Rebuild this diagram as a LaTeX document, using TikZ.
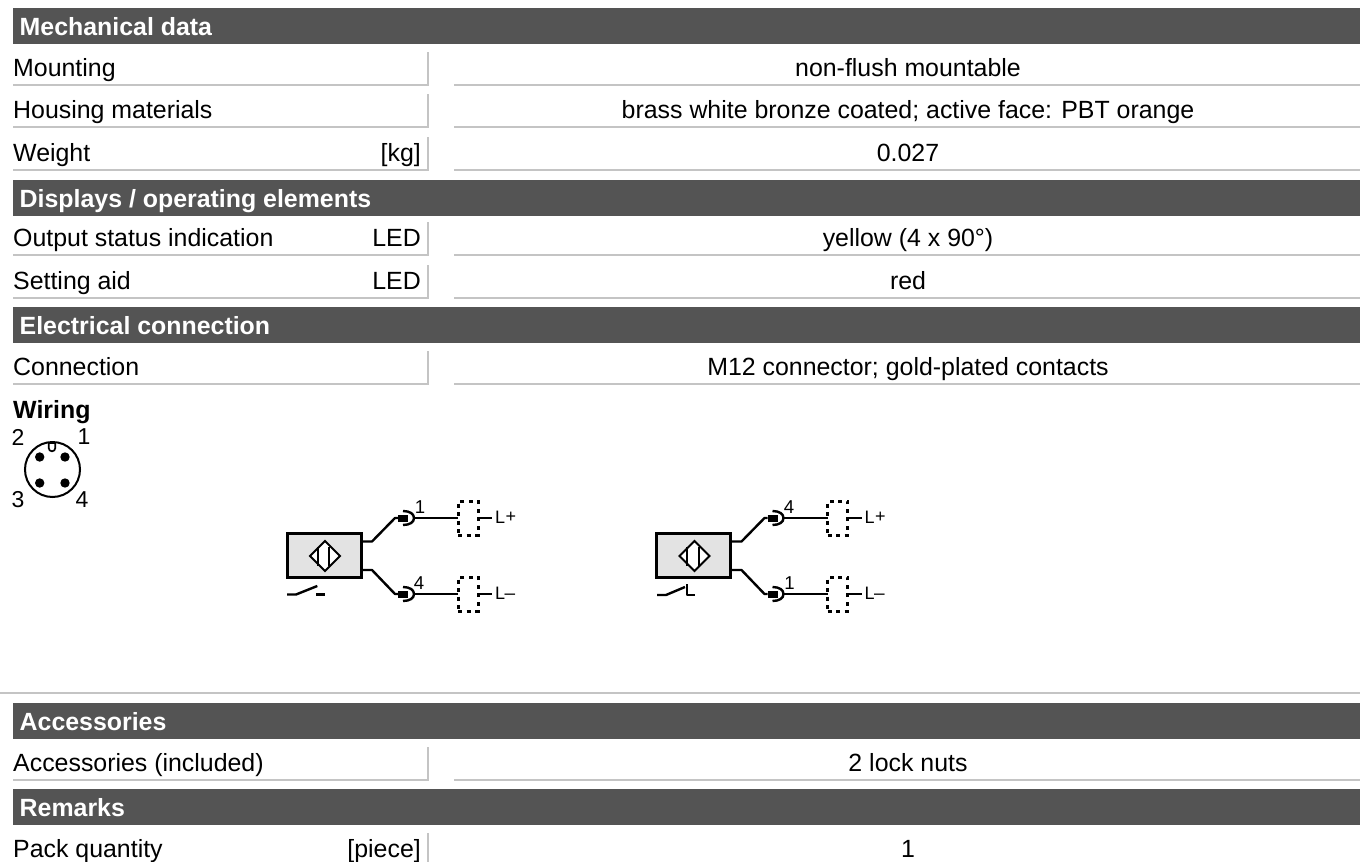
\documentclass[tikz,border=0pt]{standalone}
\usepackage{fontspec}
\setmainfont{Liberation Sans}
\definecolor{band}{HTML}{545454}
\definecolor{rulec}{HTML}{C4C4C4}
\definecolor{fillg}{HTML}{E3E3E3}
\newcommand{\bodysize}{\fontsize{24.9}{27}\selectfont}
\tikzset{
  x=1pt,y=-1pt,
  headtext/.style={anchor=base west,text=white,font=\bodysize\bfseries,inner sep=0pt},
  bandbox/.style={fill=band,draw=none,anchor=north west,minimum width=1347pt,minimum height=35.7pt,inner sep=0pt},
  lefttext/.style={anchor=base west,font=\bodysize,inner sep=0pt},
  unittext/.style={anchor=base east,font=\bodysize,inner sep=0pt},
  midtext/.style={anchor=base,font=\bodysize,inner sep=0pt},
  rowrule/.style={draw=rulec,line width=1.6pt},
  wire/.style={draw=black,line width=2.4pt,line join=round},
  dashbox/.style={draw=black,line width=3pt,dash pattern=on 4pt off 4.5pt,minimum width=20pt,minimum height=34pt,inner sep=0pt},
  sensorbox/.style={draw=black,fill=fillg,line width=3pt,minimum width=73.7pt,minimum height=44pt,inner sep=0pt},
  smalltext/.style={font=\fontsize{18.6}{20}\selectfont,inner sep=0pt},
  supplytext/.style={font=\fontsize{18}{20}\selectfont,inner sep=0pt,anchor=base west},
  pintext/.style={font=\fontsize{23}{25}\selectfont,inner sep=0pt}
}
\newcommand{\bandrow}[3]{%
  \node[bandbox] (#1) at (13,#2) {};
  \node[headtext] (#1t) at (19.5,#2+27) {#3};
}
\newcommand{\datarow}[5]{% name, rule y, left, unit, value
  \coordinate (#1a) at (13,#2);
  \coordinate (#1b) at (428,#2);
  \coordinate (#1c) at (428,#2-33);
  \coordinate (#1d) at (454,#2);
  \coordinate (#1e) at (1360,#2);
  \draw[rowrule] (#1a) -- (#1b) -- (#1c);
  \draw[rowrule] (#1d) -- (#1e);
  \node[lefttext] (#1l) at (13,#2-9) {#3};
  \node[unittext] (#1u) at (421,#2-9) {#4};
  \node[midtext] (#1v) at (908,#2-9) {#5};
}
\newcommand{\sensorunit}[6]{% prefix, xoffset, top pin, bottom pin, top pin x, bottom pin x
  \begin{scope}[shift={(#2,0)}]
    \node[sensorbox] (#1box) at (324.3,555.8) {};
    \coordinate (#1dt) at (325,541);
    \coordinate (#1dr) at (340,556);
    \coordinate (#1db) at (325,571);
    \coordinate (#1dl) at (310,556);
    \draw[line width=1.8pt,line join=miter,fill=white] (#1dt) -- (#1dr) -- (#1db) -- (#1dl) -- cycle;
    \coordinate (#1v1) at (317.7,547);
    \coordinate (#1v2) at (317.7,565.5);
    \coordinate (#1v3) at (329.3,547);
    \coordinate (#1v4) at (329.3,565.5);
    \draw[line width=1.8pt] (#1v1) -- (#1v2) (#1v3) -- (#1v4);
    \foreach \nm/\yy/\yb in {top/518/541.5,bot/594/570}{
      \coordinate (#1\nm a) at (362,\yb);
      \coordinate (#1\nm b) at (372,\yb);
      \coordinate (#1\nm c) at (395,\yy);
      \coordinate (#1\nm d) at (398,\yy);
      \coordinate (#1\nm e) at (414,\yy);
      \coordinate (#1\nm f) at (458,\yy);
      \coordinate (#1\nm g) at (478,\yy);
      \coordinate (#1\nm h) at (492,\yy);
      \draw[wire] (#1\nm a) -- (#1\nm b) -- (#1\nm c) -- (#1\nm d);
      \draw[line width=7pt] (#1\nm d) -- (408,\yy);
      \draw[line width=2.4pt] (403,\yy-7) .. controls (410,\yy-7) and (414,\yy-4) .. (#1\nm e) .. controls (414,\yy+4) and (410,\yy+7) .. (403,\yy+7);
      \draw[wire] (#1\nm e) -- (#1\nm f);
      \node[dashbox] (#1\nm box) at (468,\yy) {};
      \draw[wire] (#1\nm g) -- (#1\nm h);
    }
    \node[supplytext] (#1ltop) at (495,523) {L\kern0.3pt\raisebox{0.5pt}{\fontsize{18}{18}\selectfont +}};
    \node[supplytext] (#1lbot) at (495,599) {L\kern-0.5pt\fontsize{19}{19}\selectfont --};
    \node[smalltext] (#1ptop) at (#5,507) {#3};
    \node[smalltext] (#1pbot) at (#6,583) {#4};
  \end{scope}
}
\begin{document}
\begin{tikzpicture}
\useasboundingbox (0,0) rectangle (1360,862);
\fill[white] (0,0) rectangle (1360,862);
\bandrow{h1}{8}{Mechanical data}
\datarow{r1}{85}{Mounting}{}{non-flush mountable}
\datarow{r2}{127}{Housing materials}{}{brass white bronze coated; active face: PBT orange}
\datarow{r3}{170}{Weight}{[kg]}{0.027}
\bandrow{h2}{180}{Displays / operating elements}
\datarow{r4}{255}{Output status indication}{LED}{yellow (4 x 90°)}
\datarow{r5}{298}{Setting aid}{LED}{red}
\bandrow{h3}{307}{Electrical connection}
\datarow{r6}{384}{Connection}{}{M12 connector; gold-plated contacts}
\node[lefttext,font=\bodysize\bfseries] (wir) at (13,418) {Wiring};
\node[pintext] (p2) at (18,437) {2};
\node[pintext] (p1) at (84,437) {1};
\node[pintext] (p3) at (18,500) {3};
\node[pintext] (p4) at (82,500) {4};
\node[circle,draw=black,line width=2pt,minimum size=55pt,inner sep=0pt] (plug) at (52.5,469.5) {};
\draw[line width=1.7pt,fill=white] (48.7,443) -- (48.7,448) arc[start angle=180,end angle=360,radius=3.3pt] -- (55.3,443) -- cycle;
\fill (39.7,457) circle (4.7pt) (65,457) circle (4.7pt) (39.7,483) circle (4.7pt) (65,483) circle (4.7pt);
\sensorunit{a}{0}{1}{4}{420}{419}
\sensorunit{b}{369.5}{4}{1}{419.5}{420}
\coordinate (s1) at (287,594.5);
\coordinate (s2) at (296,594.5);
\coordinate (s3) at (317.3,586);
\draw[wire] (s1) -- (s2) -- (s3);
\draw[wire] (316,594.5) -- (324.5,594.5);
\coordinate (n1) at (657,595);
\coordinate (n2) at (666,595);
\coordinate (n3) at (685,587);
\draw[wire] (n1) -- (n2) -- (n3);
\draw[wire] (686.7,584) -- (686.7,595) -- (695,595);
\coordinate (ll) at (0,693);
\coordinate (lr) at (1360,693);
\draw[rowrule] (ll) -- (lr);
\bandrow{h4}{703}{Accessories}
\datarow{r7}{780}{Accessories (included)}{}{2 lock nuts}
\bandrow{h5}{789}{Remarks}
\datarow{r8}{866}{Pack quantity}{[piece]}{1}
\end{tikzpicture}
\end{document}
